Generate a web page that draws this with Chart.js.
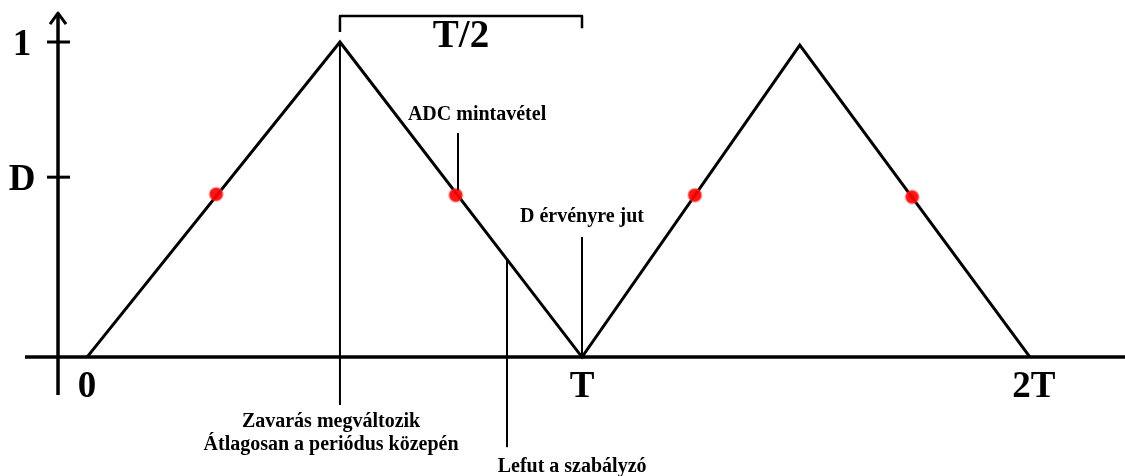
<!DOCTYPE html>
<html>
<head>
<meta charset="utf-8">
<script src="https://cdn.jsdelivr.net/npm/chart.js@4"></script>
<style>
  body { margin: 0; background: #fff; }
  canvas { display: block; }
</style>
</head>
<body>
<canvas id="chart" width="1125" height="476"></canvas>
<script>
// triangle carrier, x in periods (T), y relative to 1
var triX = [0, 0.511, 1, 1.44, 1.905];
var triY = [0, 1, 0, 0.99, 0];

// ADC sampling points (red dots)
var dotX = [0.261, 0.745, 1.228, 1.667];
var dotY = [0.517, 0.514, 0.514, 0.508];

// tick labels
var xTickValues = [0, 1, 1.905];
var xTickLabels = ['0', 'T', '2T'];
var yTickValues = [1, 0.571];
var yTickLabels = ['1', 'D'];

var serif = '"Liberation Serif", "Times New Roman", serif';

function makePoints(xs, ys) {
  var pts = [];
  for (var i = 0; i < xs.length; i++) {
    pts.push({ x: xs[i], y: ys[i] });
  }
  return pts;
}

// draws axes, ticks, labels and the annotations on top of the chart
var drawingPlugin = {
  id: 'drawing',
  beforeDraw: function (chart) {
    var c = chart.ctx;
    c.save();
    c.fillStyle = '#fff';
    c.fillRect(0, 0, chart.width, chart.height);
    c.restore();
  },
  afterDatasetsDraw: function (chart) {
    var c = chart.ctx;
    var sx = chart.scales.x;
    var sy = chart.scales.y;
    var px = function (v) { return sx.getPixelForValue(v); };
    var py = function (v) { return sy.getPixelForValue(v); };

    c.save();
    c.strokeStyle = '#000';
    c.fillStyle = '#000';
    c.lineCap = 'butt';

    // x axis
    var y0 = py(0);
    c.lineWidth = 3.5;
    c.beginPath();
    c.moveTo(chart.chartArea.left, y0);
    c.lineTo(chart.chartArea.right, y0);
    c.stroke();

    // y axis with arrow
    var ax = px(-0.0586);
    c.beginPath();
    c.moveTo(ax, py(-0.12));
    c.lineTo(ax, py(1.092) + 2);
    c.stroke();
    c.lineWidth = 3;
    c.lineJoin = 'round';
    c.beginPath();
    c.moveTo(ax - 8, py(1.092) + 11);
    c.lineTo(ax, py(1.092));
    c.lineTo(ax + 8, py(1.092) + 11);
    c.stroke();

    // y ticks and labels
    c.lineWidth = 3;
    c.font = 'bold 37px ' + serif;
    c.textAlign = 'center';
    c.textBaseline = 'middle';
    for (var i = 0; i < yTickValues.length; i++) {
      var ty = py(yTickValues[i]);
      c.beginPath();
      c.moveTo(ax - 11, ty);
      c.lineTo(ax + 12, ty);
      c.stroke();
      c.fillText(yTickLabels[i], 22, ty + 3);
    }

    // x labels
    for (var j = 0; j < xTickValues.length; j++) {
      c.fillText(xTickLabels[j], px(xTickValues[j]) + (j === 2 ? 4 : 0), y0 + 30);
    }

    // T/2 bracket
    c.lineWidth = 2.5;
    c.beginPath();
    c.moveTo(px(0.511), py(1.032));
    c.lineTo(px(0.511), py(1.0825));
    c.lineTo(px(1), py(1.0825));
    c.lineTo(px(1), py(1.044));
    c.stroke();
    c.font = 'bold 39px ' + serif;
    c.fillText('T/2', px(0.7555), py(1.0825) + 21);

    // annotation lines
    c.lineWidth = 2;
    var lines = [
      [0.511, 1, 0.511, -0.152],
      [0.8485, 0.311, 0.8485, -0.286],
      [1, 0.381, 1, 0],
      [0.7495, 0.711, 0.7495, 0.53]
    ];
    lines.forEach(function (l) {
      c.beginPath();
      c.moveTo(px(l[0]), py(l[1]));
      c.lineTo(px(l[2]), py(l[3]));
      c.stroke();
    });

    // annotation texts
    c.font = 'bold 20px ' + serif;
    c.fillText('ADC mintavétel', px(0.788), py(0.768));
    c.fillText('D érvényre jut', px(1), py(0.444));
    c.fillText('Zavarás megváltozik', px(0.493), py(-0.206));
    c.fillText('Átlagosan a periódus közepén', px(0.493), py(-0.279));
    c.fillText('Lefut a szabályzó', px(0.98), py(-0.349));

    c.restore();
  }
};

var chart = new Chart(document.getElementById('chart'), {
  type: 'scatter',
  data: {
    datasets: [{
      label: 'ADC',
      data: makePoints(dotX, dotY),
      pointRadius: 6.5,
      pointHoverRadius: 6.5,
      pointBackgroundColor: 'rgba(255, 0, 0, 0.92)',
      pointBorderColor: 'rgba(255, 60, 60, 0.45)',
      pointBorderWidth: 2
    }, {
      label: 'carrier',
      data: makePoints(triX, triY),
      showLine: true,
      borderColor: '#000',
      borderWidth: 3,
      pointRadius: 0,
      fill: false
    }]
  },
  options: {
    responsive: false,
    animation: false,
    devicePixelRatio: 1,
    layout: { autoPadding: false, padding: { left: 25, right: 0, top: 10, bottom: 66 } },
    plugins: {
      legend: { display: false },
      tooltip: { enabled: false }
    },
    scales: {
      x: { type: 'linear', min: -0.1253, max: 2.097, display: false },
      y: { type: 'linear', min: -0.168, max: 1.1016, display: false }
    }
  },
  plugins: [drawingPlugin]
});
</script>
</body>
</html>
